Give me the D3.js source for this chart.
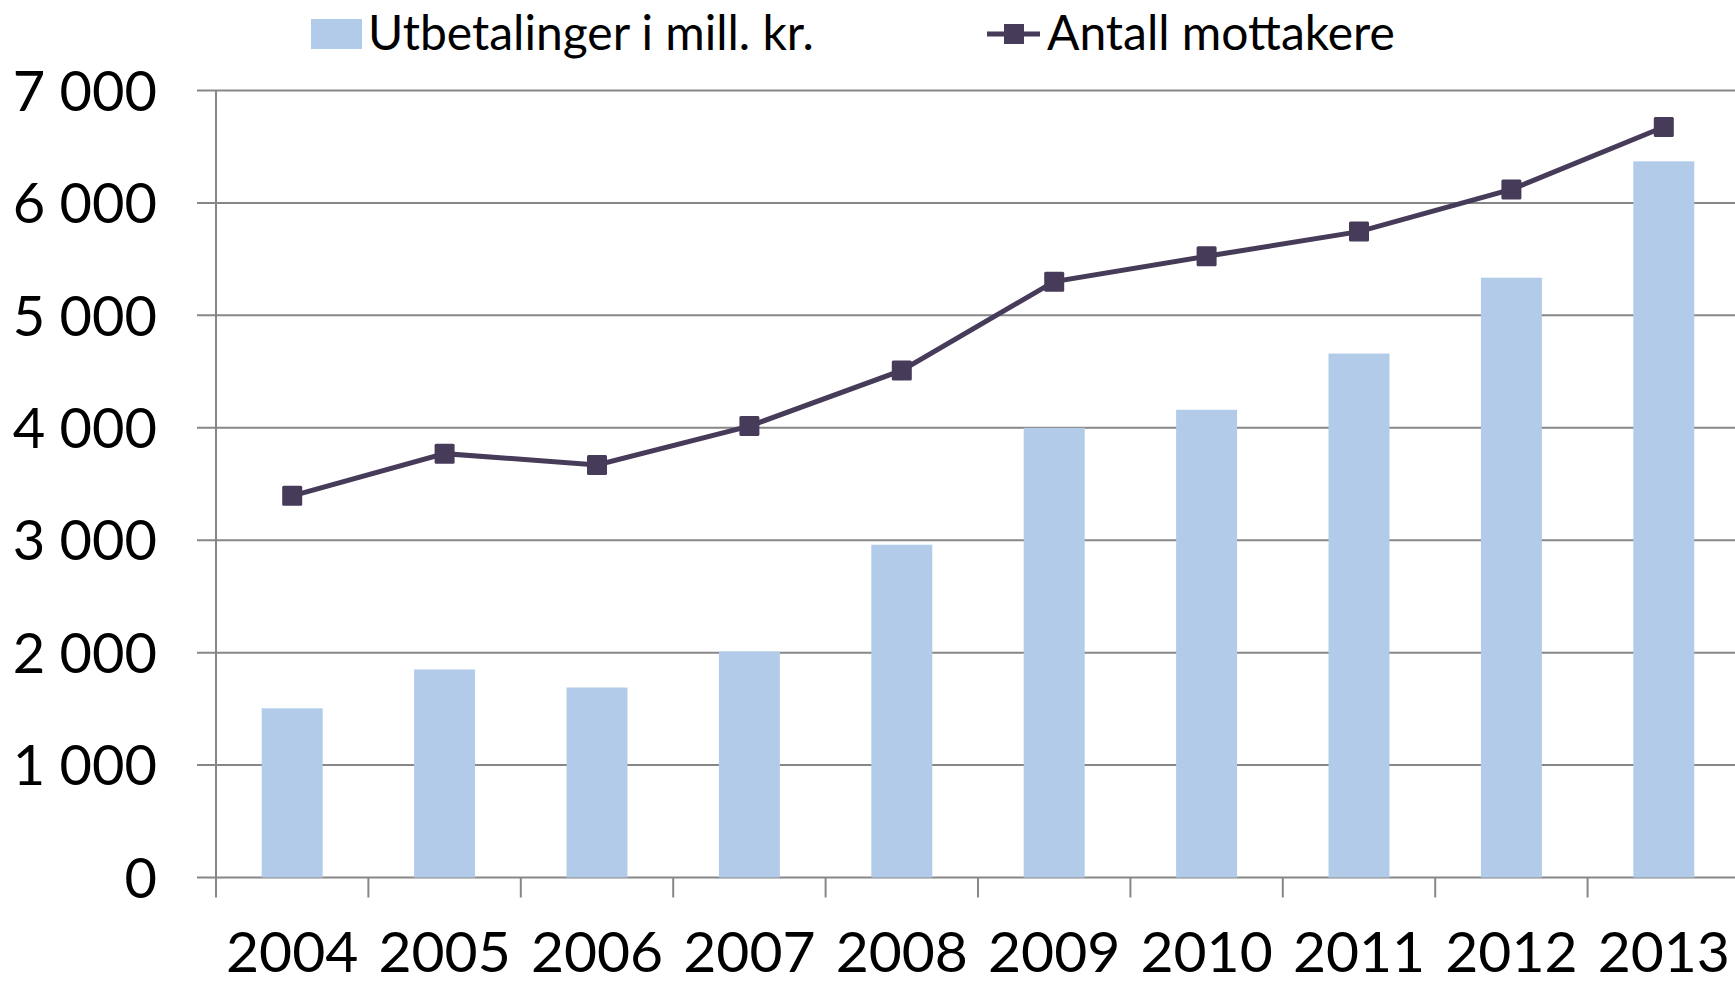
<!DOCTYPE html>
<html lang="en">
  <head>
    <meta charset="utf-8" />
    <title>Utbetalinger og mottakere</title>
    <style>
      body { margin: 0; background: #fff; }
      text { font-family: Lato, "Open Sans", sans-serif; fill: #000; }
    </style>
  </head>
  <body>
    <svg id="viz"></svg>
    <script src="https://d3js.org/d3.v7.min.js"></script>
    <script>
        var years = ["2004", "2005", "2006", "2007", "2008", "2009", "2010", "2011", "2012", "2013"];
        var utbetalinger = [1505, 1850, 1690, 2010, 2960, 4000, 4160, 4660, 5335, 6370];
        var mottakere = [3395, 3770, 3670, 4015, 4510, 5300, 5525, 5745, 6120, 6675];
        var yTicks = [0, 1000, 2000, 3000, 4000, 5000, 6000, 7000];
        var seriesNames = ["Utbetalinger i mill. kr.", "Antall mottakere"];

        var width = 1735;
        var height = 984;
        var barColor = "#b1cbe9";
        var lineColor = "#463b58";
        var gridColor = "#878787";

        var svg = d3.select("#viz")
            .attr("width", width)
            .attr("height", height);

        var x = d3.scaleBand()
            .domain(years)
            .range([216, 1740]);

        var y = d3.scaleLinear()
            .domain([0, 7000])
            .range([877.5, 90.5]);

        var fmt = d3.formatLocale({decimal: ",", thousands: " ", grouping: [3], currency: ["", " kr"]}).format(",d");

        // gridlines (with the little outside tick on the left)
        svg.append("g").selectAll("line")
            .data(yTicks)
            .enter()
            .append("line")
            .attr("x1", 197)
            .attr("x2", x.range()[1])
            .attr("y1", d => y(d))
            .attr("y2", d => y(d))
            .attr("stroke", gridColor)
            .attr("stroke-width", 2);

        // bars
        var barW = x.bandwidth() * 0.4;
        svg.append("g").selectAll("rect")
            .data(years)
            .enter()
            .append("rect")
            .attr("x", d => x(d) + x.bandwidth() / 2 - barW / 2)
            .attr("width", barW)
            .attr("y", (d, i) => y(utbetalinger[i]))
            .attr("height", (d, i) => y(0) - y(utbetalinger[i]))
            .attr("fill", barColor);

        // axes
        svg.append("line")
            .attr("x1", 216).attr("x2", 216)
            .attr("y1", y(7000)).attr("y2", y(0) + 20)
            .attr("stroke", gridColor).attr("stroke-width", 2);

        svg.append("g").selectAll("line")
            .data(years.slice(1))
            .enter()
            .append("line")
            .attr("x1", d => x(d)).attr("x2", d => x(d))
            .attr("y1", y(0)).attr("y2", y(0) + 20)
            .attr("stroke", gridColor).attr("stroke-width", 2);

        svg.append("g").selectAll("text")
            .data(yTicks)
            .enter()
            .append("text")
            .attr("x", 157)
            .attr("y", d => y(d))
            .attr("dy", "0.36em")
            .attr("text-anchor", "end")
            .style("font-size", "56px")
            .text(d => fmt(d));

        svg.append("g").selectAll("text")
            .data(years)
            .enter()
            .append("text")
            .attr("x", d => x(d) + x.bandwidth() / 2)
            .attr("y", 972)
            .attr("text-anchor", "middle")
            .style("font-size", "57px")
            .text(d => d);

        // line + markers
        var line = d3.line()
            .x((d, i) => x(years[i]) + x.bandwidth() / 2)
            .y(d => y(d));

        svg.append("path")
            .datum(mottakere)
            .attr("d", line)
            .attr("fill", "none")
            .attr("stroke", lineColor)
            .attr("stroke-width", 5);

        svg.append("g").selectAll("rect")
            .data(mottakere)
            .enter()
            .append("rect")
            .attr("x", (d, i) => x(years[i]) + x.bandwidth() / 2 - 10)
            .attr("y", d => y(d) - 10)
            .attr("width", 20)
            .attr("height", 20)
            .attr("rx", 1.5)
            .attr("fill", lineColor);

        // legend
        var legend = svg.append("g");
        legend.append("rect")
            .attr("x", 311).attr("y", 19)
            .attr("width", 51).attr("height", 30)
            .attr("fill", barColor);
        legend.append("text")
            .attr("x", 368).attr("y", 50)
            .style("font-size", "48px")
            .text(seriesNames[0]);

        legend.append("line")
            .attr("x1", 987).attr("x2", 1040)
            .attr("y1", 34).attr("y2", 34)
            .attr("stroke", lineColor).attr("stroke-width", 5);
        legend.append("rect")
            .attr("x", 1004).attr("y", 24)
            .attr("width", 20).attr("height", 20)
            .attr("fill", lineColor);
        legend.append("text")
            .attr("x", 1047).attr("y", 50)
            .style("font-size", "48px")
            .text(seriesNames[1]);
    </script>
  </body>
</html>
